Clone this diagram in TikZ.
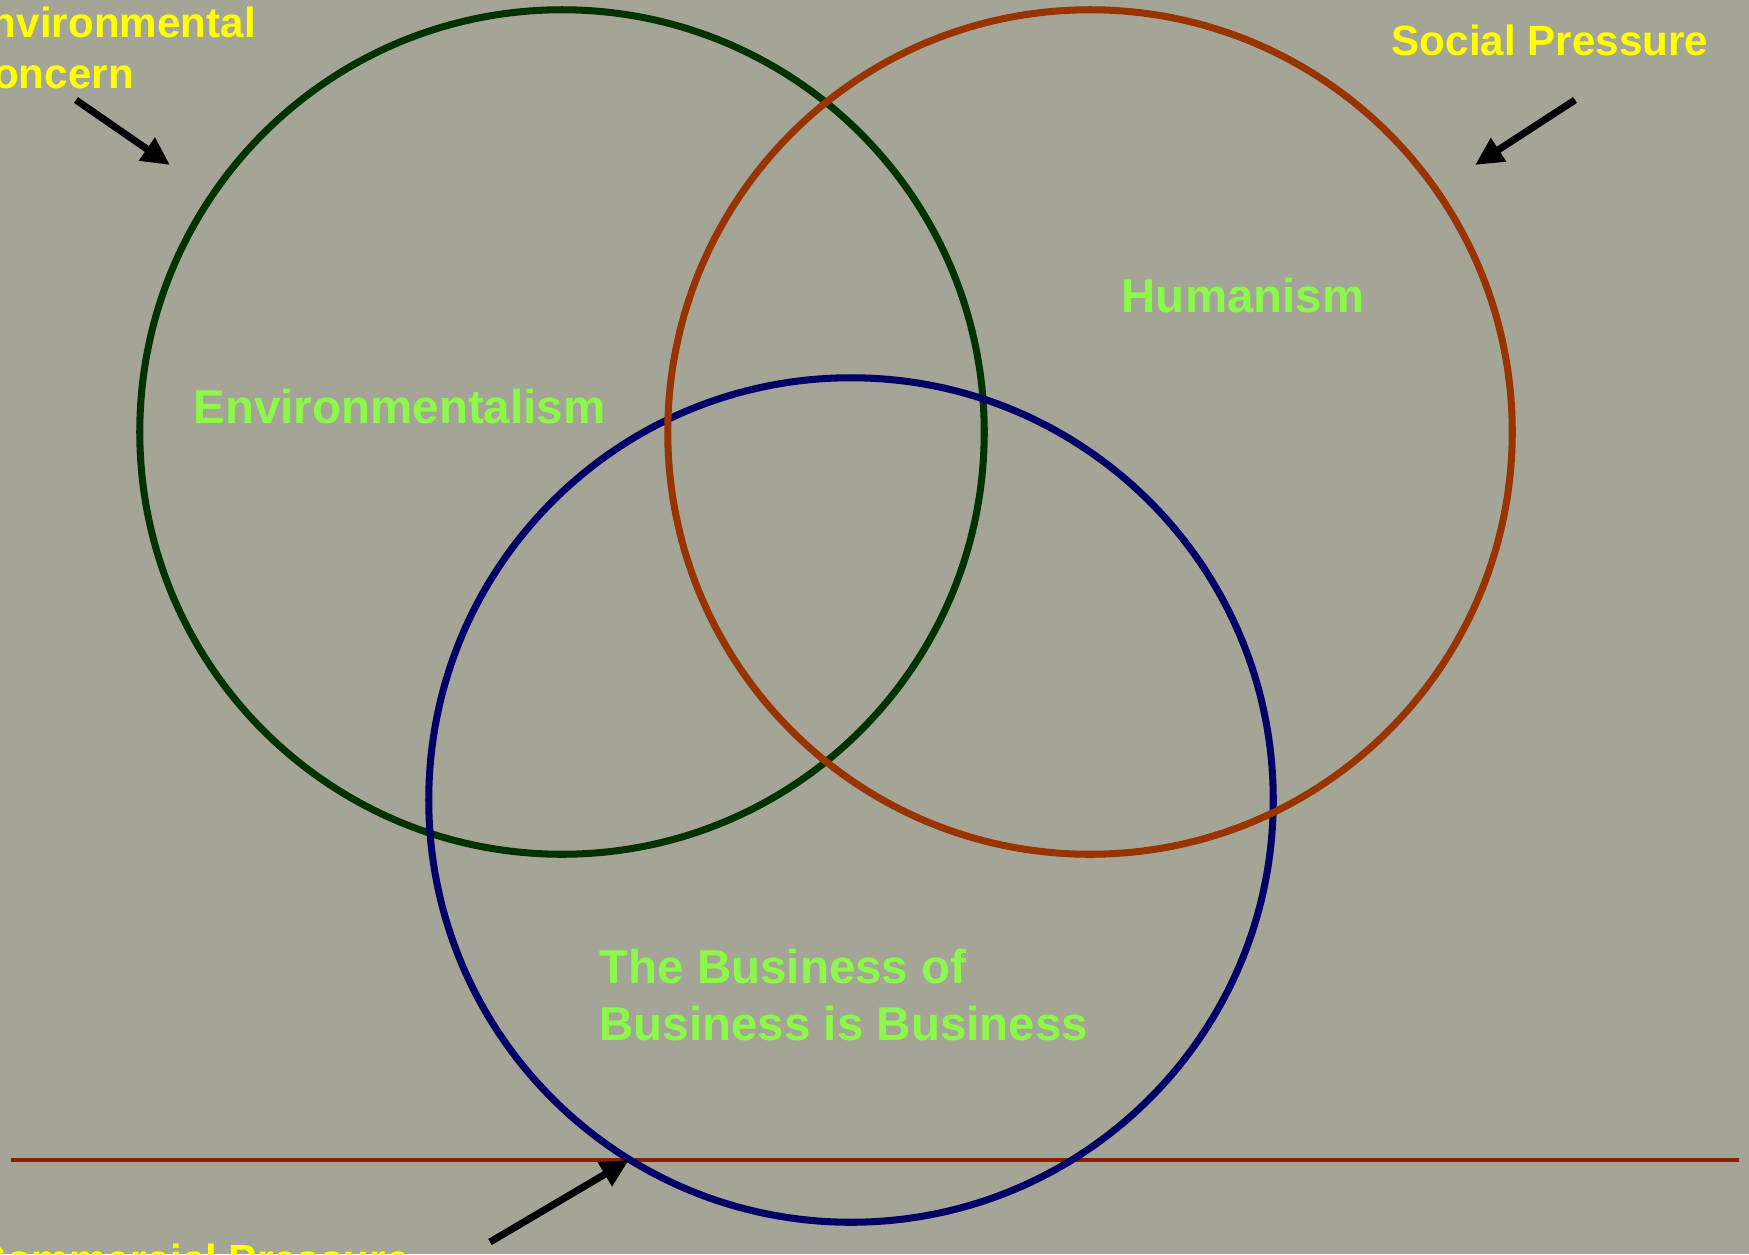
\documentclass[tikz,border=0pt]{standalone}
\usepackage{fontspec}
\setmainfont{Liberation Sans}
\usetikzlibrary{arrows.meta}
\definecolor{cbg}{HTML}{A4A596}
\definecolor{cgreen}{HTML}{003300}
\definecolor{corange}{HTML}{993300}
\definecolor{cblue}{HTML}{000066}
\definecolor{crule}{HTML}{8E1E00}
\definecolor{cyellow}{HTML}{FFFF00}
\definecolor{clime}{HTML}{8CF94A}

\begin{document}
\begin{tikzpicture}[x=0.01cm,y=-0.01cm,
    ring/.style={draw,circle,line width=2pt,minimum size=8.44cm,inner sep=0pt},
    idea/.style={text=clime,font=\fontsize{13.5}{16.2}\selectfont\bfseries,
      inner sep=0pt,anchor=base west,align=left},
    force/.style={text=cyellow,font=\fontsize{12}{14.4}\selectfont\bfseries,
      inner sep=0pt,anchor=base west,align=left},
    push/.style={-{Triangle[length=8pt,width=7.5pt]},line width=2pt,black}]
  \useasboundingbox (0,0) rectangle (1749,1254);
  \fill[cbg] (0,0) rectangle (1749,1254);
  % ground line
  \coordinate (rulel) at (11,1160);
  \coordinate (ruler) at (1739,1160);
  \draw[crule,line width=1.3pt] (rulel) -- (ruler);
  % the three circles
  \node[ring,cgreen] (envc) at (562,432) {};
  \node[ring,cblue] (busc) at (851,800) {};
  \node[ring,corange] (humc) at (1090,432) {};
  % inner labels
  \node[idea] (envlab) at (193,423) {Environmentalism};
  \node[idea] (humlab) at (1121,312) {Humanism};
  \node[idea] (buslab) at (599,1040) {The Business of\\Business is Business};
  % outer pressures
  \node[force] (envpress) at (-38,88) {Environmental\\Concern};
  \node[force] (socpress) at (1391,55) {Social Pressure};
  \node[force] (compress) at (-25,1274) {Commercial Pressure};
  \coordinate (envtail) at (76,100);
  \coordinate (envtip) at (170,165);
  \coordinate (soctail) at (1575,100);
  \coordinate (soctip) at (1475,165);
  \coordinate (comtail) at (490,1242);
  \coordinate (comtip) at (629,1160);
  \draw[push] (envtail) -- (envtip);
  \draw[push] (soctail) -- (soctip);
  \draw[push] (comtail) -- (comtip);
\end{tikzpicture}
\end{document}
